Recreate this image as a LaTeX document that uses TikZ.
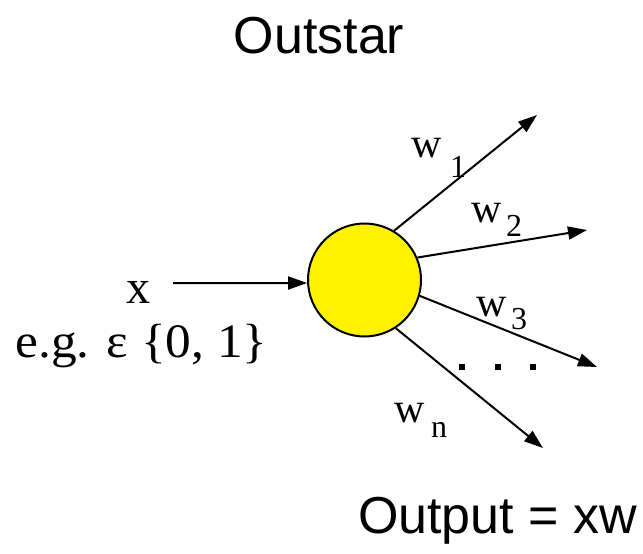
\documentclass[tikz,border=0pt]{standalone}
\usepackage{fontspec}
\setmainfont{Liberation Serif}
\newfontfamily\arialf{Liberation Sans}
\usetikzlibrary{arrows.meta}
\begin{document}
\begin{tikzpicture}[x=1pt,y=-1pt,
  conn/.style={line width=2pt,-{Triangle[length=19pt,width=13pt]}},
  serifbig/.style={inner sep=0pt,anchor=base,font=\fontsize{48}{56}\selectfont},
  wlab/.style={inner sep=0pt,anchor=base west,font=\fontsize{42}{48}\selectfont},
  wsub/.style={inner sep=0pt,anchor=base west,font=\fontsize{32}{36}\selectfont},
  sanslab/.style={inner sep=0pt,anchor=base,font=\arialf\fontsize{52}{60}\selectfont},
  dotsq/.style={fill=black,minimum size=6pt,inner sep=0pt}]
\useasboundingbox (0,0) rectangle (643,554);
\node[sanslab] (title) at (319,53) {Outstar};
\node[circle,draw,line width=2pt,fill=yellow,minimum size=113pt,inner sep=0pt] (c) at (364.5,280) {};
\coordinate (xin) at (173,283);
\coordinate (t1) at (537,115);
\coordinate (t2) at (587,230);
\coordinate (t3) at (597,367);
\coordinate (tn) at (543,448);
\draw[conn] (xin) -- (c.183);
\draw[conn] (c.59.6) -- (t1);
\draw[conn] (c.23.3) -- (t2);
\draw[conn] (c.-16.7) -- (t3);
\draw[conn] (c.-57.3) -- (tn);
\node[serifbig] (xl) at (138,303) {x};
\node[serifbig] (eg) at (141.5,357) {\scalebox{1.07}[1]{e.g. ε \{0, 1\}}};
\node[wlab] (w1) at (411,157) {w};
\node[wsub] (w1s) at (450,177) {1};
\node[wlab] (w2) at (471,222) {w};
\node[wsub] (w2s) at (506,236) {2};
\node[wlab] (w3) at (476,316) {w};
\node[wsub] (w3s) at (511,329) {3};
\node[wlab] (wn) at (394,422) {w};
\node[wsub] (wns) at (431,437) {n};
\node[dotsq] (d1) at (462,367) {};
\node[dotsq] (d2) at (498,367) {};
\node[dotsq] (d3) at (533,367) {};
\node[sanslab] (out) at (497.5,533) {Output = xw};
\end{tikzpicture}
\end{document}
